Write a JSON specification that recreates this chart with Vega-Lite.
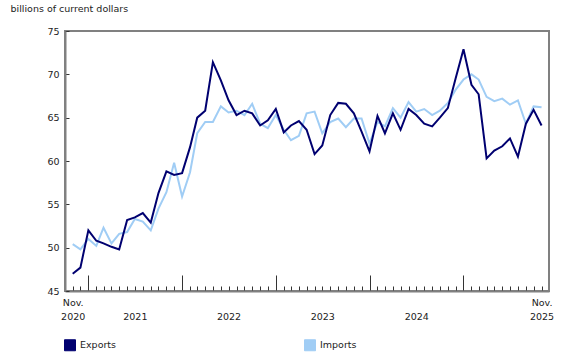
{
  "$schema": "https://vega.github.io/schema/vega-lite/v6.json",
  "width": 484,
  "height": 260,
  "autosize": {"type": "none"},
  "padding": {"left": 65, "top": 31, "right": 31, "bottom": 69},
  "background": "white",
  "config": {
    "font": "DejaVu Sans",
    "view": {"stroke": "#808080", "strokeWidth": 2}
  },
  "data": {
    "values": [
      {"month": "2020/11/01", "Exports": 47.0, "Imports": 50.4},
      {"month": "2020/12/01", "Exports": 47.7, "Imports": 49.8},
      {"month": "2021/01/01", "Exports": 52.0, "Imports": 51.0},
      {"month": "2021/02/01", "Exports": 50.8, "Imports": 50.2},
      {"month": "2021/03/01", "Exports": 50.5, "Imports": 52.3},
      {"month": "2021/04/01", "Exports": 50.1, "Imports": 50.5},
      {"month": "2021/05/01", "Exports": 49.8, "Imports": 51.6},
      {"month": "2021/06/01", "Exports": 53.2, "Imports": 51.8},
      {"month": "2021/07/01", "Exports": 53.5, "Imports": 53.3},
      {"month": "2021/08/01", "Exports": 54.0, "Imports": 53.0},
      {"month": "2021/09/01", "Exports": 52.9, "Imports": 52.0},
      {"month": "2021/10/01", "Exports": 56.3, "Imports": 54.5},
      {"month": "2021/11/01", "Exports": 58.8, "Imports": 56.4},
      {"month": "2021/12/01", "Exports": 58.4, "Imports": 59.8},
      {"month": "2022/01/01", "Exports": 58.6, "Imports": 55.9},
      {"month": "2022/02/01", "Exports": 61.6, "Imports": 58.7},
      {"month": "2022/03/01", "Exports": 65.0, "Imports": 63.2},
      {"month": "2022/04/01", "Exports": 65.8, "Imports": 64.5},
      {"month": "2022/05/01", "Exports": 71.4, "Imports": 64.5},
      {"month": "2022/06/01", "Exports": 69.3, "Imports": 66.3},
      {"month": "2022/07/01", "Exports": 67.0, "Imports": 65.6},
      {"month": "2022/08/01", "Exports": 65.3, "Imports": 65.8},
      {"month": "2022/09/01", "Exports": 65.8, "Imports": 65.3},
      {"month": "2022/10/01", "Exports": 65.5, "Imports": 66.6},
      {"month": "2022/11/01", "Exports": 64.1, "Imports": 64.3},
      {"month": "2022/12/01", "Exports": 64.7, "Imports": 63.8},
      {"month": "2023/01/01", "Exports": 66.0, "Imports": 65.3},
      {"month": "2023/02/01", "Exports": 63.3, "Imports": 63.6},
      {"month": "2023/03/01", "Exports": 64.1, "Imports": 62.4},
      {"month": "2023/04/01", "Exports": 64.6, "Imports": 62.9},
      {"month": "2023/05/01", "Exports": 63.6, "Imports": 65.5},
      {"month": "2023/06/01", "Exports": 60.8, "Imports": 65.7},
      {"month": "2023/07/01", "Exports": 61.8, "Imports": 63.2},
      {"month": "2023/08/01", "Exports": 65.3, "Imports": 64.5},
      {"month": "2023/09/01", "Exports": 66.7, "Imports": 64.9},
      {"month": "2023/10/01", "Exports": 66.6, "Imports": 63.9},
      {"month": "2023/11/01", "Exports": 65.5, "Imports": 64.9},
      {"month": "2023/12/01", "Exports": 63.4, "Imports": 64.9},
      {"month": "2024/01/01", "Exports": 61.1, "Imports": 62.0},
      {"month": "2024/02/01", "Exports": 65.2, "Imports": 64.5},
      {"month": "2024/03/01", "Exports": 63.2, "Imports": 64.0},
      {"month": "2024/04/01", "Exports": 65.5, "Imports": 66.1},
      {"month": "2024/05/01", "Exports": 63.6, "Imports": 65.0},
      {"month": "2024/06/01", "Exports": 66.0, "Imports": 66.8},
      {"month": "2024/07/01", "Exports": 65.3, "Imports": 65.7},
      {"month": "2024/08/01", "Exports": 64.3, "Imports": 66.0},
      {"month": "2024/09/01", "Exports": 64.0, "Imports": 65.3},
      {"month": "2024/10/01", "Exports": 65.0, "Imports": 65.8},
      {"month": "2024/11/01", "Exports": 66.1, "Imports": 66.7},
      {"month": "2024/12/01", "Exports": 69.5, "Imports": 68.2},
      {"month": "2025/01/01", "Exports": 72.9, "Imports": 69.4},
      {"month": "2025/02/01", "Exports": 68.8, "Imports": 70.0},
      {"month": "2025/03/01", "Exports": 67.7, "Imports": 69.4},
      {"month": "2025/04/01", "Exports": 60.3, "Imports": 67.4},
      {"month": "2025/05/01", "Exports": 61.2, "Imports": 66.9},
      {"month": "2025/06/01", "Exports": 61.7, "Imports": 67.2},
      {"month": "2025/07/01", "Exports": 62.6, "Imports": 66.5},
      {"month": "2025/08/01", "Exports": 60.5, "Imports": 67.0},
      {"month": "2025/09/01", "Exports": 64.3, "Imports": 64.3},
      {"month": "2025/10/01", "Exports": 65.9, "Imports": 66.3},
      {"month": "2025/11/01", "Exports": 64.1, "Imports": 66.2}
    ]
  },
  "transform": [
    {"fold": ["Exports", "Imports"], "as": ["series", "value"]}
  ],
  "encoding": {
    "x": {
      "field": "month",
      "type": "temporal",
      "scale": {"domain": [{"year": 2020, "month": 10, "date": 2}, {"year": 2025, "month": 11, "date": 30}], "nice": false},
      "axis": {
        "title": null,
        "grid": false,
        "tickCount": {"interval": "month", "step": 1},
        "tickSize": {"condition": {"test": "month(datum.value) === 0", "value": -16}, "value": -5},
        "tickColor": "#333333",
        "tickWidth": 1,
        "domainColor": "#808080",
        "domainWidth": 2,
        "labelExpr": "month(datum.value) == 10 && (year(datum.value) == 2020 || year(datum.value) == 2025) ? ['Nov.', '' + year(datum.value)] : (month(datum.value) == 6 && year(datum.value) < 2025 ? ['', '' + year(datum.value)] : '')",
        "labelOverlap": false,
        "labelFlush": false,
        "labelBound": false,
        "labelFontSize": 9.5,
        "labelColor": "#222222",
        "labelPadding": 11,
        "labelLineHeight": 14.5,
        "labelAlign": "center",
        "labelBaseline": "top"
      }
    },
    "y": {
      "field": "value",
      "type": "quantitative",
      "scale": {"domain": [45, 75], "nice": false, "zero": false},
      "axis": {
        "title": "billions of current dollars",
        "titleAngle": 0,
        "titleAlign": "left",
        "titleBaseline": "alphabetic",
        "titleX": -55,
        "titleY": -20,
        "titleFontSize": 9.5,
        "titleFontWeight": "normal",
        "titleColor": "#222222",
        "values": [45, 50, 55, 60, 65, 70, 75],
        "grid": false,
        "tickSize": -4,
        "tickColor": "#333333",
        "domainColor": "#808080",
        "domainWidth": 2,
        "labelFontSize": 9.5,
        "labelColor": "#222222",
        "labelPadding": 10
      }
    },
    "color": {
      "field": "series",
      "type": "nominal",
      "scale": {"domain": ["Exports", "Imports"], "range": ["#000070", "#a0cdf5"]},
      "legend": {
        "title": null,
        "orient": "none",
        "legendX": -1,
        "legendY": 308,
        "direction": "horizontal",
        "columns": 2,
        "columnPadding": 185,
        "symbolType": "square",
        "symbolSize": 121,
        "symbolStrokeWidth": 1,
        "labelFontSize": 9.5,
        "labelColor": "#222222",
        "labelOffset": 4,
        "encode": {
          "symbols": {
            "update": {
              "fill": {"scale": "color", "field": "value"},
              "stroke": {"value": "#333333"},
              "strokeWidth": {"value": 1},
              "fillOpacity": {"value": 1}
            }
          }
        }
      }
    }
  },
  "layer": [
    {
      "transform": [{"filter": "datum.series === 'Imports'"}],
      "mark": {"type": "line", "strokeWidth": 2}
    },
    {
      "transform": [{"filter": "datum.series === 'Exports'"}],
      "mark": {"type": "line", "strokeWidth": 2}
    }
  ]
}
